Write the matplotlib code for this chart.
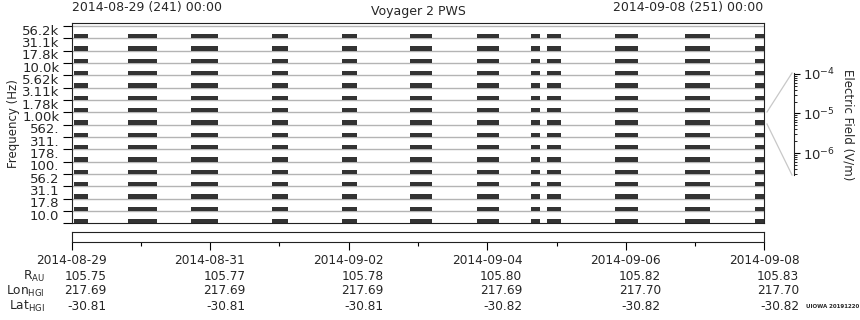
import matplotlib
matplotlib.use('Agg')
import matplotlib.pyplot as plt
import matplotlib.dates as mdates
from matplotlib.lines import Line2D
from matplotlib.transforms import blended_transform_factory
import pandas as pd

# Frequency channels, bottom to top
freq_labels = ['10.0', '17.8', '31.1', '56.2', '100.', '178.', '311.', '562.',
               '1.00k', '1.78k', '3.11k', '5.62k', '10.0k', '17.8k', '31.1k', '56.2k']

# Data segments (start, end)
seg_start = ['2014-08-29 00:45', '2014-08-29 19:25', '2014-08-30 17:15', '2014-08-31 21:20',
             '2014-09-01 21:35', '2014-09-02 21:10', '2014-09-03 20:25', '2014-09-04 15:10',
             '2014-09-04 20:40', '2014-09-05 20:25', '2014-09-06 20:40', '2014-09-07 20:40']
seg_end = ['2014-08-29 05:30', '2014-08-30 05:30', '2014-08-31 02:40', '2014-09-01 02:50',
           '2014-09-02 02:50', '2014-09-03 04:50', '2014-09-04 04:05', '2014-09-04 18:15',
           '2014-09-05 01:40', '2014-09-06 04:20', '2014-09-07 05:15', '2014-09-08 00:00']

# Ephemeris rows under the time axis
tick_dates = ['2014-08-29', '2014-08-31', '2014-09-02', '2014-09-04', '2014-09-06', '2014-09-08']
r_au = ['105.75', '105.77', '105.78', '105.80', '105.82', '105.83']
lon_hgi = ['217.69', '217.69', '217.69', '217.69', '217.70', '217.70']
lat_hgi = ['-30.81', '-30.81', '-30.81', '-30.82', '-30.82', '-30.82']

t0 = mdates.date2num(pd.Timestamp('2014-08-29'))
t1 = mdates.date2num(pd.Timestamp('2014-09-08'))
starts = mdates.date2num(pd.to_datetime(seg_start))
ends = mdates.date2num(pd.to_datetime(seg_end))
spans = [(s, e - s) for s, e in zip(starts, ends)]

plt.rcParams['font.family'] = 'DejaVu Sans'
txt = '#262626'
fig = plt.figure(figsize=(8.6, 3.2), dpi=100)

# Main panel
ax = fig.add_axes([0.0834, 0.3022, 0.8053, 0.625])
for k in range(len(freq_labels)):
    ax.axhline(k + 1, color='#b4b4b4', lw=1.0, zorder=1)
    ax.broken_barh(spans, (k, 0.34), facecolors='#333333', zorder=2)
ax.set_xlim(t0, t1)
ax.set_ylim(0, 16.22)
ax.set_xticks([])
ax.set_yticks(range(17))
ax.set_yticklabels([])
ax.set_yticks([k + 0.7 for k in range(16)], minor=True)
ax.set_yticklabels(freq_labels, minor=True, fontsize=9.5, color=txt)
ax.tick_params(axis='y', which='major', direction='out', length=6.5, width=0.8)
ax.tick_params(axis='y', which='minor', length=0, pad=9)
for sp in ax.spines.values():
    sp.set_color('#222222')
ax.set_ylabel('Frequency (Hz)', fontsize=8.5, color=txt)
ax.yaxis.set_label_coords(-0.075, 0.5)

# Titles
fig.text(0.0834, 0.975, '2014-08-29 (241) 00:00', fontsize=9, ha='left', va='center', color=txt)
fig.text(0.888, 0.975, '2014-09-08 (251) 00:00', fontsize=9, ha='right', va='center', color=txt)
fig.text(0.486, 0.965, 'Voyager 2 PWS', fontsize=9, ha='center', va='center', color=txt)

# Thin time panel with date ticks
ax2 = fig.add_axes([0.0834, 0.2428, 0.8053, 0.0331])
ax2.set_xlim(t0, t1)
ax2.set_yticks([])
ax2.xaxis.set_major_locator(mdates.DayLocator(interval=2))
ax2.xaxis.set_minor_locator(mdates.DayLocator())
ax2.set_xticklabels([])
ax2.tick_params(axis='x', which='major', length=6, width=0.8)
ax2.tick_params(axis='x', which='minor', length=3, width=0.8)
for sp in ax2.spines.values():
    sp.set_color('#222222')

trans = blended_transform_factory(ax2.transData, fig.transFigure)
rows = [(1 - 260 / 320, tick_dates), (1 - 276 / 320, r_au),
        (1 - 291 / 320, lon_hgi), (1 - 306 / 320, lat_hgi)]
for y, vals in rows:
    for d, v in zip(tick_dates, vals):
        ax2.annotate(v, xy=(mdates.date2num(pd.Timestamp(d)), y), xycoords=trans,
                     xytext=(25.2, 0), textcoords='offset points',
                     ha='right', va='center', fontsize=8.7, color=txt,
                     annotation_clip=False)

for y, lab in [(1 - 276 / 320, r'R$_{\rm AU}$'), (1 - 291 / 320, r'Lon$_{\rm HGI}$'),
               (1 - 306 / 320, r'Lat$_{\rm HGI}$')]:
    fig.text(45 / 860, y, lab, fontsize=8.7, ha='right', va='center', color=txt)

fig.text(806 / 860, 1 - 307 / 320, 'UIOWA 20191220', fontsize=4.0, fontweight='bold',
         ha='left', va='center', color=txt)

# Electric field scale
cax = fig.add_axes([794 / 860, 1 - 175 / 320, 0.0005, 102 / 320])
cax.set_yscale('log')
cax.set_ylim(2.8e-7, 1.05e-4)
cax.set_xticks([])
cax.yaxis.tick_right()
for name in ['left', 'top', 'bottom']:
    cax.spines[name].set_visible(False)
cax.spines['right'].set_color('#222222')
cax.tick_params(axis='y', which='major', length=4, width=0.8, labelsize=9.5, pad=2,
                labelcolor=txt)
cax.tick_params(axis='y', which='minor', length=2.5, width=0.6)
cax.set_yticks([1e-6, 1e-5, 1e-4])
cax.set_yticklabels([r'10$^{-6}$', r'10$^{-5}$', r'10$^{-4}$'])
fig.text(848 / 860, 1 - 125 / 320, 'Electric Field (V/m)', rotation=270, fontsize=8.5,
         ha='center', va='center', color=txt)

# Connecting lines from the main panel to the scale
for (x0, y0), (x1, y1) in [((767, 112), (792, 73)), ((767, 124), (792, 175))]:
    fig.add_artist(Line2D([x0 / 860, x1 / 860], [1 - y0 / 320, 1 - y1 / 320],
                          color='#c8c8c8', lw=0.9, transform=fig.transFigure))

fig.savefig('out.png', dpi=100)
